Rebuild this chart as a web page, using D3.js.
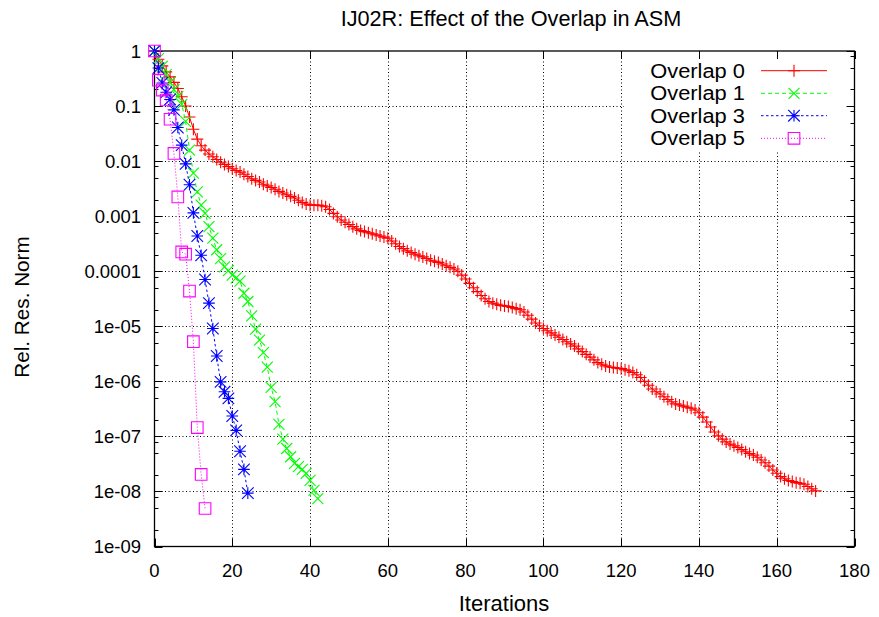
<!DOCTYPE html>
<html><head><meta charset="utf-8">
<script src="https://cdn.jsdelivr.net/npm/d3@7"></script>
<style>
html,body{margin:0;padding:0;background:#fff;}
svg{display:block;font-family:"Liberation Sans",Arial,sans-serif;}
</style></head>
<body>
<svg id="chart" width="879" height="617"></svg>
<script>
// ---- data (log10 of relative residual norm, one value per iteration) ----
const seriesNames = ["Overlap 0", "Overlap 1", "Overlap 3", "Overlap 5"];
const overlap0Log = [
 0,-0.15,-0.27,-0.38,-0.47,-0.57,-0.68,-0.83,-1.00,-1.20,
 -1.42,-1.60,-1.72,-1.80,-1.87,-1.92,-1.97,-2.02,-2.06,-2.10,
 -2.14,-2.17,-2.20,-2.24,-2.28,-2.32,-2.35,-2.38,-2.42,-2.45,
 -2.48,-2.51,-2.55,-2.58,-2.61,-2.64,-2.67,-2.71,-2.75,-2.78,
 -2.80,-2.80,-2.80,-2.81,-2.83,-2.88,-2.95,-3.01,-3.07,-3.11,
 -3.15,-3.19,-3.23,-3.26,-3.28,-3.30,-3.32,-3.34,-3.36,-3.38,
 -3.40,-3.45,-3.50,-3.55,-3.59,-3.63,-3.66,-3.69,-3.72,-3.74,
 -3.77,-3.80,-3.82,-3.84,-3.87,-3.90,-3.93,-3.96,-4.00,-4.07,
 -4.14,-4.22,-4.30,-4.37,-4.44,-4.50,-4.55,-4.58,-4.60,-4.62,
 -4.63,-4.64,-4.66,-4.68,-4.70,-4.74,-4.80,-4.87,-4.94,-4.99,
 -5.04,-5.08,-5.12,-5.16,-5.20,-5.24,-5.28,-5.32,-5.36,-5.41,
 -5.46,-5.51,-5.56,-5.61,-5.66,-5.69,-5.72,-5.74,-5.75,-5.76,
 -5.77,-5.79,-5.81,-5.84,-5.88,-5.93,-6.00,-6.07,-6.14,-6.19,
 -6.23,-6.28,-6.33,-6.37,-6.41,-6.43,-6.45,-6.47,-6.49,-6.52,
 -6.57,-6.65,-6.74,-6.83,-6.92,-6.99,-7.05,-7.10,-7.14,-7.17,
 -7.20,-7.24,-7.28,-7.31,-7.34,-7.38,-7.43,-7.48,-7.54,-7.61,
 -7.67,-7.73,-7.77,-7.80,-7.82,-7.84,-7.85,-7.87,-7.91,-7.95,
 -7.99];
const overlap1Log = [
 0,-0.14,-0.28,-0.43,-0.57,-0.70,-0.83,-0.97,-1.28,-1.80,
 -2.22,-2.56,-2.80,-2.95,-3.19,-3.40,-3.61,-3.77,-3.92,-3.99,
 -4.07,-4.12,-4.18,-4.40,-4.55,-4.81,-5.05,-5.25,-5.48,-5.74,
 -6.11,-6.37,-6.78,-7.05,-7.22,-7.37,-7.49,-7.55,-7.60,-7.67,
 -7.80,-7.98,-8.13];
const overlap3Log = [
 0,-0.31,-0.58,-0.75,-0.88,-1.07,-1.39,-1.71,-2.05,-2.43,
 -2.94,-3.36,-3.71,-4.15,-4.58,-5.04,-5.54,-6.01,-6.19,-6.31,
 -6.63,-6.89,-7.27,-7.60,-8.03];
const overlap5Log = [
 0,-0.53,-0.71,-0.89,-1.24,-1.86,-2.65,-3.65,-3.69,-4.36,
 -5.28,-6.84,-7.69,-8.31];
const xTicks = [0,20,40,60,80,100,120,140,160,180];
const yTicks = [1,1e-1,1e-2,1e-3,1e-4,1e-5,1e-6,1e-7,1e-8,1e-9];
const yTickLabels = ["1","0.1","0.01","0.001","0.0001","1e-05","1e-06","1e-07","1e-08","1e-09"];
const yMinorFactors = [2,5,8];
const titleText = "IJ02R: Effect of the Overlap in ASM";
const xLabel = "Iterations";
const yLabel = "Rel. Res. Norm";

// ---- styles ----
const colors = ["#ff0000","#00ff00","#0000ff","#ff00ff"];
const dashes = [null,"4,3","2.5,2.5","1,2"];
const markers = ["plus","cross","star","square"];

const svg = d3.select("#chart");
const L = 154.5, R = 854.5, T = 51, B = 546.5;
const x = d3.scaleLinear().domain([0,180]).range([L,R]);
const y = d3.scaleLog().domain([1e-9,1]).range([B,T]);

// grid
const grid = svg.append("g").attr("stroke","#000").attr("stroke-width",1).attr("stroke-dasharray","1,2.5");
xTicks.filter(v=>v>0&&v<180).forEach(v=>{
  grid.append("line").attr("x1",Math.round(x(v))+0.5).attr("x2",Math.round(x(v))+0.5).attr("y1",T).attr("y2",B);
});
yTicks.filter(v=>v<1&&v>1e-9).forEach(v=>{
  grid.append("line").attr("y1",Math.round(y(v))+0.5).attr("y2",Math.round(y(v))+0.5).attr("x1",L).attr("x2",R);
});
// key background covers grid
svg.append("rect").attr("x",624).attr("y",58).attr("width",221).attr("height",93).attr("fill","#fff");

// ticks (inward, mirrored)
const tk = svg.append("g").attr("stroke","#000").attr("stroke-width",1);
xTicks.forEach(v=>{
  const px = Math.round(x(v))+0.5;
  tk.append("line").attr("x1",px).attr("x2",px).attr("y1",B).attr("y2",B-8);
  tk.append("line").attr("x1",px).attr("x2",px).attr("y1",T).attr("y2",T+8);
});
yTicks.forEach((v,i)=>{
  const py = Math.round(y(v))+0.5;
  tk.append("line").attr("x1",L).attr("x2",L+8).attr("y1",py).attr("y2",py);
  tk.append("line").attr("x1",R).attr("x2",R-8).attr("y1",py).attr("y2",py);
  if (i>0) yMinorFactors.forEach(f=>{
    const my = Math.round(y(v*f))+0.5;
    tk.append("line").attr("x1",L).attr("x2",L+4).attr("y1",my).attr("y2",my);
    tk.append("line").attr("x1",R).attr("x2",R-4).attr("y1",my).attr("y2",my);
  });
});
// border
svg.append("rect").attr("x",L).attr("y",T).attr("width",R-L).attr("height",B-T)
  .attr("fill","none").attr("stroke","#000").attr("stroke-width",1.3);

// tick labels
const lab = svg.append("g").attr("fill","#000").attr("font-size",18.5);
xTicks.forEach(v=>{
  lab.append("text").attr("x",x(v)).attr("y",577).attr("text-anchor","middle").text(v);
});
yTicks.forEach((v,i)=>{
  lab.append("text").attr("x",141).attr("y",y(v)+6.5).attr("text-anchor","end").text(yTickLabels[i]);
});
svg.append("text").attr("x",511).attr("y",26).attr("text-anchor","middle").attr("font-size",21.7).text(titleText);
svg.append("text").attr("x",504).attr("y",611).attr("text-anchor","middle").attr("font-size",22).text(xLabel);
svg.append("text").attr("transform","translate(29,307) rotate(-90)").attr("text-anchor","middle").attr("font-size",20.7).text(yLabel);

// markers
function markerPath(type, s){
  if (type==="plus") return `M${-s},0H${s}M0,${-s}V${s}`;
  if (type==="cross") return `M${-s},${-s}L${s},${s}M${-s},${s}L${s},${-s}`;
  if (type==="star") return `M${-s},0H${s}M0,${-s}V${s}M${-s},${-s}L${s},${s}M${-s},${s}L${s},${-s}`;
  return `M${-s},${-s}H${s}V${s}H${-s}Z`;
}
const markerSize = [6,5.5,5.8,5.8];

const allLogs = [overlap0Log, overlap1Log, overlap3Log, overlap5Log];
const line = d3.line().x(d=>x(d[0])).y(d=>y(d[1]));
allLogs.forEach((logs,si)=>{
  const pts = logs.map((lv,i)=>[i, Math.pow(10,lv)]);
  const g = svg.append("g");
  g.append("path").attr("d",line(pts)).attr("fill","none").attr("stroke",colors[si])
    .attr("stroke-width",1).attr("stroke-dasharray",dashes[si]);
  g.selectAll("path.m").data(pts).join("path").attr("class","m")
    .attr("transform",d=>`translate(${x(d[0])},${y(d[1])})`)
    .attr("d",markerPath(markers[si],markerSize[si]))
    .attr("fill","none").attr("stroke",colors[si]).attr("stroke-width",1.1);
});

// legend
const legY = [70.7,93.3,115.7,138.3];
seriesNames.forEach((name,si)=>{
  const g = svg.append("g");
  const t = g.append("text").attr("x",745).attr("y",legY[si]+7).attr("text-anchor","end")
    .attr("font-size",19.5).text(name);
  const w = t.node().getComputedTextLength();
  t.attr("textLength", w*1.12).attr("lengthAdjust","spacingAndGlyphs");
  g.append("line").attr("x1",761).attr("x2",827).attr("y1",legY[si]).attr("y2",legY[si])
    .attr("stroke",colors[si]).attr("stroke-width",1).attr("stroke-dasharray",dashes[si]);
  g.append("path").attr("transform",`translate(794,${legY[si]})`).attr("d",markerPath(markers[si],markerSize[si]))
    .attr("fill","none").attr("stroke",colors[si]).attr("stroke-width",1.1);
});
</script>
</body></html>
